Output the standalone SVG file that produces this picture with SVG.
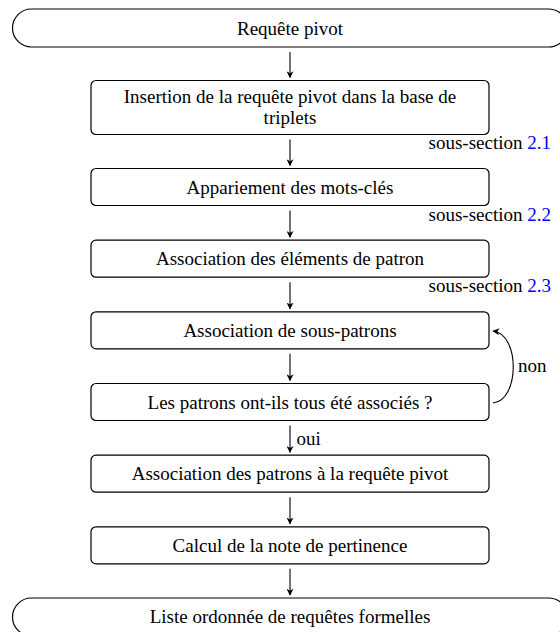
<svg xmlns="http://www.w3.org/2000/svg" width="560" height="632" viewBox="0 0 560 632">
  <defs>
    <marker id="ah" viewBox="0 0 10 10" refX="9" refY="5" markerWidth="7" markerHeight="7" markerUnits="userSpaceOnUse" orient="auto">
      <path d="M0,0 L10,5 L0,10 L3,5 Z" fill="#000"/>
    </marker>
    <style>
      .box { fill: #fff; stroke: #000; stroke-width: 1.2; }
      .t { font-family: "Liberation Serif", "Times New Roman", serif; font-size: 19px; fill: #000; }
      .c { text-anchor: middle; }
      .e { text-anchor: end; }
      .link { fill: #0000ff; }
      .conn { fill: none; stroke: #000; stroke-width: 1.1; marker-end: url(#ah); }
    </style>
  </defs>

  <g id="connectors">
    <line class="conn" x1="290" y1="52" x2="290" y2="77.5"/>
    <line class="conn" x1="290" y1="139.5" x2="290" y2="165.5"/>
    <line class="conn" x1="290" y1="210.5" x2="290" y2="237.2"/>
    <line class="conn" x1="290" y1="282.2" x2="290" y2="308.8"/>
    <line class="conn" x1="290" y1="353.8" x2="290" y2="380.5"/>
    <line class="conn" x1="290" y1="425.5" x2="290" y2="452.2"/>
    <line class="conn" x1="290" y1="497.2" x2="290" y2="523.8"/>
    <line class="conn" x1="290" y1="568.8" x2="290" y2="595"/>
    <path class="conn" d="M493,403 C520,400 520,334 493,331"/>
    <text class="t" x="296.5" y="445">oui</text>
    <text class="t" x="518" y="372">non</text>
  </g>

  <g id="start">
    <rect class="box" x="12.5" y="9" width="555" height="38" rx="19" ry="19"/>
    <text class="t c" x="290" y="34.5">Requête pivot</text>
  </g>

  <g id="insertion">
    <rect class="box" x="91" y="80.5" width="398" height="54" rx="5" ry="5"/>
    <text class="t c" x="290" y="102.5">Insertion de la requête pivot dans la base de</text>
    <text class="t c" x="290" y="124">triplets</text>
    <text class="t e" x="551" y="149">sous-section <tspan class="link">2.1</tspan></text>
  </g>

  <g id="appariement">
    <rect class="box" x="91" y="168.5" width="398" height="37" rx="5" ry="5"/>
    <text class="t c" x="290" y="193.5">Appariement des mots-clés</text>
    <text class="t e" x="551" y="220.5">sous-section <tspan class="link">2.2</tspan></text>
  </g>

  <g id="association-elements">
    <rect class="box" x="91" y="240.2" width="398" height="37" rx="5" ry="5"/>
    <text class="t c" x="290" y="265.2">Association des éléments de patron</text>
    <text class="t e" x="551" y="292">sous-section <tspan class="link">2.3</tspan></text>
  </g>

  <g id="sous-patrons">
    <rect class="box" x="91" y="311.8" width="398" height="37" rx="5" ry="5"/>
    <text class="t c" x="290" y="336.8">Association de sous-patrons</text>
  </g>

  <g id="test">
    <rect class="box" x="91" y="383.5" width="398" height="37" rx="5" ry="5"/>
    <text class="t c" x="290" y="408.5">Les patrons ont-ils tous été associés ?</text>
  </g>

  <g id="association-patrons">
    <rect class="box" x="91" y="455.2" width="398" height="37" rx="5" ry="5"/>
    <text class="t c" x="290" y="480.2">Association des patrons à la requête pivot</text>
  </g>

  <g id="calcul">
    <rect class="box" x="91" y="526.8" width="398" height="37" rx="5" ry="5"/>
    <text class="t c" x="290" y="551.8">Calcul de la note de pertinence</text>
  </g>

  <g id="end">
    <rect class="box" x="12.5" y="598" width="555" height="38" rx="19" ry="19"/>
    <text class="t c" x="290" y="623">Liste ordonnée de requêtes formelles</text>
  </g>
</svg>
